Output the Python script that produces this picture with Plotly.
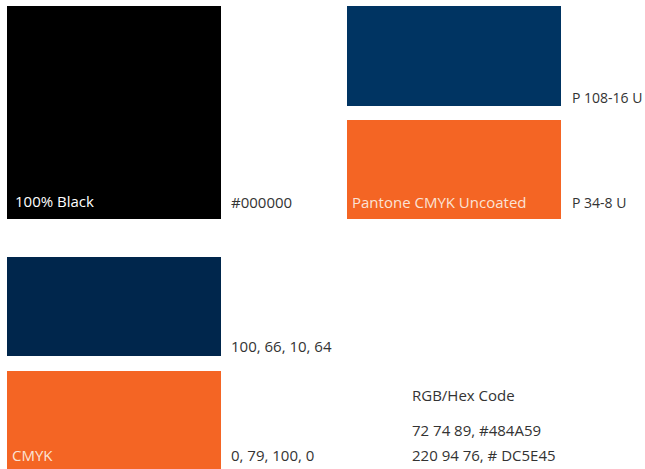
import plotly.graph_objects as go

# Swatch data
swatch_colors = ["#000000", "#003462", "#F46524", "#00264C", "#F46524"]
swatch_x0 = [7, 347, 347, 7, 7]
swatch_x1 = [221, 561, 561, 221, 221]
swatch_y0 = [6, 6, 120, 257, 371]
swatch_y1 = [219, 106, 219, 356, 469]

# Labels inside swatches
inner_labels = ["100% Black", "Pantone CMYK Uncoated", "CMYK"]
inner_x = [13, 350, 10]
inner_y = [201, 202, 455]
inner_colors = ["#FFFFFF", "#FBE3D6", "#FBE3D6"]

# Labels outside swatches
outer_labels = ["#000000", "P 108-16 U", "P 34-8 U", "100, 66, 10, 64",
                "0, 79, 100, 0", "RGB/Hex Code", "72 74 89, #484A59",
                "220 94 76, # DC5E45"]
outer_x = [229, 570, 570, 229, 229, 410, 410, 410]
outer_y = [202, 97, 202, 346, 455, 395, 430, 455]
outer_sizes = [15, 14, 14, 15, 15, 15, 15, 15]

W, H = 645, 469
FONT = "Open Sans"

fig = go.Figure()
for c, x0, x1, y0, y1 in zip(swatch_colors, swatch_x0, swatch_x1, swatch_y0, swatch_y1):
    fig.add_trace(go.Bar(
        x=[(x0 + x1) / 2], width=[x1 - x0], base=[y0], y=[y1 - y0],
        marker=dict(color=c, line=dict(width=0)), hoverinfo="skip",
        showlegend=False,
    ))

for t, x, y, c in zip(inner_labels, inner_x, inner_y, inner_colors):
    fig.add_annotation(x=x, y=y, text=t, showarrow=False, xanchor="left",
                       yanchor="middle", font=dict(family=FONT, size=15, color=c))
for t, x, y, s in zip(outer_labels, outer_x, outer_y, outer_sizes):
    fig.add_annotation(x=x, y=y, text=t, showarrow=False, xanchor="left",
                       yanchor="middle", font=dict(family=FONT, size=s, color="#333333"))

fig.update_layout(
    width=W, height=H, margin=dict(l=0, r=0, t=0, b=0),
    paper_bgcolor="white", plot_bgcolor="white", bargap=0, barmode="overlay",
    xaxis=dict(range=[0, W], visible=False, fixedrange=True),
    yaxis=dict(range=[H, 0], visible=False, fixedrange=True),
)
fig.write_html("out.html", config={"displayModeBar": False},
               post_script="document.body.style.margin='0px';document.body.style.overflow='hidden';")
